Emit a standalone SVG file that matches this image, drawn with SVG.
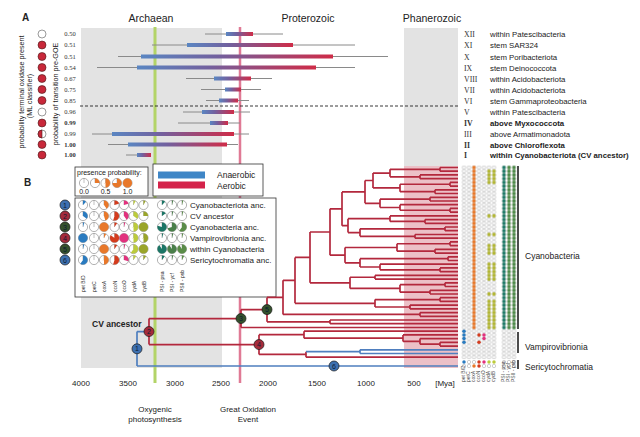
<svg xmlns="http://www.w3.org/2000/svg" xmlns:xlink="http://www.w3.org/1999/xlink" width="640" height="437" viewBox="0 0 640 437">
<style>
.t{font-family:"Liberation Sans",Arial,sans-serif;fill:#222}
.s{font-family:"Liberation Serif","Times New Roman",serif;fill:#333}
.b{font-weight:bold}
.tr{fill:none;stroke:#b3283d;stroke-width:1.7}
.tb{fill:none;stroke:#4f7fbf;stroke-width:1.7}
.ci{stroke:#8a8a8a;stroke-width:1}
.o{fill:#fff;stroke:#808080;stroke-width:.6}
.c1{stroke:#2a7bc0}.c3{stroke:#e8782a}.c4{stroke:#d43c1e}.c5{stroke:#e2327e}.c6{stroke:#bccb3c}.c7{stroke:#9aa52a}
.r1{stroke:#1b7565}.r2{stroke:#4a7f4a}.r3{stroke:#5a8c48}
.nd{stroke:#1a1a1a;stroke-width:.7}
.nt{font-family:"Liberation Sans",Arial,sans-serif;font-size:7px;fill:#0d1b33;text-anchor:middle}
.box{fill:#fff;stroke:#333;stroke-width:.8}
.tiny{font-family:"Liberation Sans",Arial,sans-serif;font-size:5px;fill:#444}
</style>
<defs>
<linearGradient id="g" x1="0" x2="1" y1="0" y2="0">
<stop offset="0" stop-color="#5a86c2"/><stop offset="0.4" stop-color="#72609e"/><stop offset="1" stop-color="#cf2c48"/>
</linearGradient>
<g id="pc"><circle class="o" r="4.6"/><path d="M0 0V-4.6" stroke="#808080" stroke-width=".5"/></g>
<circle id="wb" r="2.3" pathLength="100" transform="rotate(-90)" fill="none" stroke-width="4.6"/>
<pattern id="pg" patternUnits="userSpaceOnUse" x="461.5" y="165.64" width="5" height="3.72"><circle cx="2.5" cy="1.86" r="1.7" fill="#fff" stroke="#a0a0a0" stroke-width=".5"/></pattern>
<pattern id="po" patternUnits="userSpaceOnUse" x="461.5" y="165.64" width="5" height="3.72"><circle cx="2.5" cy="1.86" r="1.75" fill="#e8782a"/></pattern>
<pattern id="pl" patternUnits="userSpaceOnUse" x="461.5" y="165.64" width="5" height="3.72"><circle cx="2.5" cy="1.86" r="1.75" fill="#b2b634"/></pattern>
<pattern id="pt" patternUnits="userSpaceOnUse" x="461.5" y="165.64" width="5" height="3.72"><circle cx="2.5" cy="1.86" r="1.75" fill="#1f7a68"/></pattern>
<pattern id="pn" patternUnits="userSpaceOnUse" x="461.5" y="165.64" width="5" height="3.72"><circle cx="2.5" cy="1.86" r="1.75" fill="#4d8a48"/></pattern>
<circle id="mg" r="1.7" fill="#fff" stroke="#a0a0a0" stroke-width=".5"/>
</defs>
<rect width="640" height="437" fill="#fff"/>

<!-- background eras -->
<g id="eras">
<rect x="81" y="28" width="141" height="340" fill="#e3e3e3"/>
<rect x="404" y="28" width="54" height="340" fill="#e3e3e3"/>
<rect x="404" y="166" width="54" height="202" fill="#ecc0c7"/>
<line x1="155" y1="27" x2="155" y2="383" stroke="#b3d468" stroke-width="3"/>
<line x1="240" y1="27" x2="240" y2="383" stroke="#e07a95" stroke-width="2.5"/>
<text class="t" x="151" y="22" font-size="10.5" text-anchor="middle">Archaean</text>
<text class="t" x="308" y="22" font-size="10.5" text-anchor="middle">Proterozoic</text>
<text class="t" x="432" y="22" font-size="10.5" text-anchor="middle">Phanerozoic</text>
</g>

<!-- Panel A -->
<g id="panelA">
<text class="t b" x="22" y="21" font-size="10">A</text>
<text class="t" transform="translate(24 92) rotate(-90)" font-size="7.2" text-anchor="middle">probability terminal oxidase present</text>
<text class="t" transform="translate(32 96) rotate(-90)" font-size="7.2" text-anchor="middle">(ML classifier)</text>
<text class="t" transform="translate(58 94) rotate(-90)" font-size="7.2" text-anchor="middle">probability of transition pre-GOE</text>
<line x1="80" y1="106" x2="458" y2="106" stroke="#222" stroke-width=".9" stroke-dasharray="3 2"/>
<g id="a-circles" stroke="#4a1a1a" stroke-width=".6">
<circle cx="42" cy="34" r="4" fill="#fff" stroke="#555"/>
<circle cx="42" cy="45" r="4" fill="#c8283a"/>
<circle cx="42" cy="56.5" r="4" fill="#c8283a"/>
<circle cx="42" cy="67.5" r="4" fill="#c8283a"/>
<circle cx="42" cy="78.5" r="4" fill="#c8283a"/>
<circle cx="42" cy="89.5" r="4" fill="#c8283a"/>
<circle cx="42" cy="100.5" r="4" fill="#c8283a"/>
<circle cx="42" cy="112" r="4" fill="#fff" stroke="#555"/>
<circle cx="42" cy="123" r="4" fill="#c8283a"/>
<circle cx="42" cy="134" r="4" fill="#fff" stroke="#555"/>
<path d="M42 130A4 4 0 0 0 42 138Z" fill="#c8283a"/>
<circle cx="42" cy="144.5" r="4" fill="#c8283a"/>
<circle cx="42" cy="155" r="4" fill="#c8283a"/>
</g>
<g id="a-values" class="s" font-size="6.5" text-anchor="middle">
<text x="70" y="36.3">0.50</text><text x="70" y="47.3">0.51</text><text x="70" y="58.8">0.51</text>
<text x="70" y="69.8">0.54</text><text x="70" y="80.8">0.67</text><text x="70" y="91.8">0.75</text>
<text x="70" y="102.8">0.85</text><text x="70" y="114.3">0.96</text><text x="70" y="125.3" font-weight="bold">0.99</text>
<text x="70" y="136.3">0.99</text><text x="70" y="146.8" font-weight="bold">1.00</text><text x="70" y="157.3" font-weight="bold">1.00</text>
</g>
<g id="a-bars">
<line class="ci" x1="205" y1="34" x2="283" y2="34"/><rect x="226" y="32" width="27" height="4" fill="url(#g)"/>
<line class="ci" x1="152" y1="45" x2="355" y2="45"/><rect x="187" y="43" width="106" height="4" fill="url(#g)"/>
<line class="ci" x1="118" y1="56.5" x2="388" y2="56.5"/><rect x="141" y="54.5" width="192" height="4" fill="url(#g)"/>
<line class="ci" x1="97" y1="67.5" x2="355" y2="67.5"/><rect x="137" y="65.5" width="179" height="4" fill="url(#g)"/>
<line class="ci" x1="186" y1="78.5" x2="272" y2="78.5"/><rect x="214" y="76.5" width="37" height="4" fill="url(#g)"/>
<line class="ci" x1="201" y1="89.5" x2="261" y2="89.5"/><rect x="225" y="87.5" width="16" height="4" fill="url(#g)"/>
<line class="ci" x1="206" y1="100.5" x2="249" y2="100.5"/><rect x="219" y="98.5" width="19" height="4" fill="url(#g)"/>
<line class="ci" x1="183" y1="112" x2="250" y2="112"/><rect x="202" y="110" width="32" height="4" fill="url(#g)"/>
<line class="ci" x1="178" y1="123" x2="240" y2="123"/><rect x="210" y="121" width="18" height="4" fill="url(#g)"/>
<line class="ci" x1="92" y1="134" x2="249" y2="134"/><rect x="112" y="132" width="122" height="4" fill="url(#g)"/>
<line class="ci" x1="108" y1="144.5" x2="238" y2="144.5"/><rect x="128" y="142.5" width="99" height="4" fill="url(#g)"/>
<line class="ci" x1="126" y1="155" x2="150" y2="155"/><rect x="137" y="153" width="14" height="4" fill="url(#g)"/>
</g>
<g id="a-labels" font-size="7.8">
<text class="s" x="464" y="37">XII</text><text class="t" x="490" y="37">within Patescibacteria</text>
<text class="s" x="464" y="48">XI</text><text class="t" x="490" y="48">stem SAR324</text>
<text class="s" x="464" y="59.5">X</text><text class="t" x="490" y="59.5">stem Poribacteriota</text>
<text class="s" x="464" y="70.5">IX</text><text class="t" x="490" y="70.5">stem Deinococcota</text>
<text class="s" x="464" y="81.5">VIII</text><text class="t" x="490" y="81.5">within Acidobacteriota</text>
<text class="s" x="464" y="92.5">VII</text><text class="t" x="490" y="92.5">within Acidobacteriota</text>
<text class="s" x="464" y="103.5">VI</text><text class="t" x="490" y="103.5">stem Gammaproteobacteria</text>
<text class="s" x="464" y="115">V</text><text class="t" x="490" y="115">within Patescibacteria</text>
<text class="s b" x="464" y="126">IV</text><text class="t b" x="490" y="126">above Myxococcota</text>
<text class="s" x="464" y="137">III</text><text class="t" x="490" y="137">above Armatimonadota</text>
<text class="s b" x="464" y="147.5">II</text><text class="t b" x="490" y="147.5">above Chloroflexota</text>
<text class="s b" x="464" y="158">I</text><text class="t b" x="490" y="158">within Cyanobacteriota (CV ancestor)</text>
</g>
</g>

<!-- Panel B -->
<text class="t b" x="24" y="186" font-size="10">B</text>

<g id="legend-presence">
<rect class="box" x="75" y="167" width="73" height="29"/>
<text class="t" x="77" y="174.5" font-size="7">presence probability:</text>
<g transform="translate(84 183)"><use href="#pc"/></g>
<g transform="translate(95 183)"><use href="#pc"/><use href="#wb" class="c3" stroke-dasharray="25 100"/></g>
<g transform="translate(105.5 183)"><use href="#pc"/><use href="#wb" class="c3" stroke-dasharray="50 100"/></g>
<g transform="translate(117 183)"><use href="#pc"/><use href="#wb" class="c3" stroke-dasharray="75 100"/></g>
<g transform="translate(127.5 183)"><use href="#pc"/><use href="#wb" class="c3" stroke-dasharray="100 0"/></g>
<text class="t" x="84" y="194" font-size="7" text-anchor="middle">0.0</text>
<text class="t" x="105.5" y="194" font-size="7" text-anchor="middle">0.5</text>
<text class="t" x="127.5" y="194" font-size="7" text-anchor="middle">1.0</text>
</g>

<g id="legend-oxygen">
<rect class="box" x="153" y="164" width="110" height="32"/>
<rect x="158" y="171.5" width="47" height="7" fill="#3f86c6"/>
<rect x="158" y="181.5" width="47" height="7" fill="#d4234a"/>
<text class="t" x="217" y="178" font-size="8.5">Anaerobic</text>
<text class="t" x="217" y="188.5" font-size="8.5">Aerobic</text>
</g>

<g id="legend-matrix">
<rect class="box" x="75" y="198" width="201" height="99"/>
<g id="lm-row1">
<g transform="translate(83 205)"><use href="#pc"/><use href="#wb" class="c1" stroke-dasharray="12 100"/></g>
<g transform="translate(94 205)"><use href="#pc"/></g>
<g transform="translate(104 205)"><use href="#pc"/><use href="#wb" class="c3" stroke-dasharray="40 100"/></g>
<g transform="translate(114.5 205)"><use href="#pc"/><use href="#wb" class="c4" stroke-dasharray="20 100"/></g>
<g transform="translate(124 205)"><use href="#pc"/><use href="#wb" class="c5" stroke-dasharray="20 100"/></g>
<g transform="translate(133.5 205)"><use href="#pc"/><use href="#wb" class="c6" stroke-dasharray="8 100"/></g>
<g transform="translate(143.5 205)"><use href="#pc"/><use href="#wb" class="c7" stroke-dasharray="8 100"/></g>
<g transform="translate(162 205)"><use href="#pc"/><use href="#wb" class="r1" stroke-dasharray="12 100"/></g>
<g transform="translate(172 205)"><use href="#pc"/><use href="#wb" class="r2" stroke-dasharray="5 100"/></g>
<g transform="translate(182 205)"><use href="#pc"/><use href="#wb" class="r3" stroke-dasharray="5 100"/></g>
</g>
<g id="lm-row2">
<g transform="translate(83 216)"><use href="#pc"/><use href="#wb" class="c1" stroke-dasharray="35 100"/></g>
<g transform="translate(94 216)"><use href="#pc"/></g>
<g transform="translate(104 216)"><use href="#pc"/><use href="#wb" class="c3" stroke-dasharray="45 100"/></g>
<g transform="translate(114.5 216)"><use href="#pc"/><use href="#wb" class="c4" stroke-dasharray="55 100"/></g>
<g transform="translate(124 216)"><use href="#pc"/><use href="#wb" class="c5" stroke-dasharray="40 100"/></g>
<g transform="translate(133.5 216)"><use href="#pc"/><use href="#wb" class="c6" stroke-dasharray="35 100"/></g>
<g transform="translate(143.5 216)"><use href="#pc"/><use href="#wb" class="c7" stroke-dasharray="25 100"/></g>
<g transform="translate(162 216)"><use href="#pc"/><use href="#wb" class="r1" stroke-dasharray="15 100"/></g>
<g transform="translate(172 216)"><use href="#pc"/><use href="#wb" class="r2" stroke-dasharray="5 100"/></g>
<g transform="translate(182 216)"><use href="#pc"/><use href="#wb" class="r3" stroke-dasharray="5 100"/></g>
</g>
<g id="lm-row3">
<g transform="translate(83 227)"><use href="#pc"/><use href="#wb" class="c1" stroke-dasharray="5 100"/></g>
<g transform="translate(94 227)"><use href="#pc"/></g>
<g transform="translate(104 227)"><use href="#pc"/><use href="#wb" class="c3" stroke-dasharray="100 0"/></g>
<g transform="translate(114.5 227)"><use href="#pc"/><use href="#wb" class="c4" stroke-dasharray="10 100"/></g>
<g transform="translate(124 227)"><use href="#pc"/><use href="#wb" class="c5" stroke-dasharray="5 100"/></g>
<g transform="translate(133.5 227)"><use href="#pc"/><use href="#wb" class="c6" stroke-dasharray="50 100"/></g>
<g transform="translate(143.5 227)"><use href="#pc"/><use href="#wb" class="c7" stroke-dasharray="100 0"/></g>
<g transform="translate(162 227)"><use href="#pc"/><use href="#wb" class="r1" stroke-dasharray="80 100"/></g>
<g transform="translate(172 227)"><use href="#pc"/><use href="#wb" class="r2" stroke-dasharray="70 100"/></g>
<g transform="translate(182 227)"><use href="#pc"/><use href="#wb" class="r3" stroke-dasharray="60 100"/></g>
</g>
<g id="lm-row4">
<g transform="translate(83 238)"><use href="#pc"/><use href="#wb" class="c1" stroke-dasharray="100 0"/></g>
<g transform="translate(94 238)"><use href="#pc"/></g>
<g transform="translate(104 238)"><use href="#pc"/><use href="#wb" class="c3" stroke-dasharray="8 100"/></g>
<g transform="translate(114.5 238)"><use href="#pc"/><use href="#wb" class="c4" stroke-dasharray="85 100"/></g>
<g transform="translate(124 238)"><use href="#pc"/><use href="#wb" class="c5" stroke-dasharray="100 0"/></g>
<g transform="translate(133.5 238)"><use href="#pc"/><use href="#wb" class="c6" stroke-dasharray="50 100"/></g>
<g transform="translate(143.5 238)"><use href="#pc"/><use href="#wb" class="c7" stroke-dasharray="50 100"/></g>
<g transform="translate(162 238)"><use href="#pc"/><use href="#wb" class="r1" stroke-dasharray="5 100"/></g>
<g transform="translate(172 238)"><use href="#pc"/><use href="#wb" class="r2" stroke-dasharray="5 100"/></g>
<g transform="translate(182 238)"><use href="#pc"/><use href="#wb" class="r3" stroke-dasharray="5 100"/></g>
</g>
<g id="lm-row5">
<g transform="translate(83 249)"><use href="#pc"/><use href="#wb" class="c1" stroke-dasharray="5 100"/></g>
<g transform="translate(94 249)"><use href="#pc"/></g>
<g transform="translate(104 249)"><use href="#pc"/><use href="#wb" class="c3" stroke-dasharray="100 0"/></g>
<g transform="translate(114.5 249)"><use href="#pc"/><use href="#wb" class="c4" stroke-dasharray="10 100"/></g>
<g transform="translate(124 249)"><use href="#pc"/><use href="#wb" class="c5" stroke-dasharray="5 100"/></g>
<g transform="translate(133.5 249)"><use href="#pc"/><use href="#wb" class="c6" stroke-dasharray="60 100"/></g>
<g transform="translate(143.5 249)"><use href="#pc"/><use href="#wb" class="c7" stroke-dasharray="100 0"/></g>
<g transform="translate(162 249)"><use href="#pc"/><use href="#wb" class="r1" stroke-dasharray="90 100"/></g>
<g transform="translate(172 249)"><use href="#pc"/><use href="#wb" class="r2" stroke-dasharray="90 100"/></g>
<g transform="translate(182 249)"><use href="#pc"/><use href="#wb" class="r3" stroke-dasharray="90 100"/></g>
</g>
<g id="lm-row6">
<g transform="translate(83 260)"><use href="#pc"/><use href="#wb" class="c1" stroke-dasharray="60 100"/></g>
<g transform="translate(94 260)"><use href="#pc"/></g>
<g transform="translate(104 260)"><use href="#pc"/><use href="#wb" class="c3" stroke-dasharray="50 100"/></g>
<g transform="translate(114.5 260)"><use href="#pc"/><use href="#wb" class="c4" stroke-dasharray="55 100"/></g>
<g transform="translate(124 260)"><use href="#pc"/><use href="#wb" class="c5" stroke-dasharray="30 100"/></g>
<g transform="translate(133.5 260)"><use href="#pc"/><use href="#wb" class="c6" stroke-dasharray="10 100"/></g>
<g transform="translate(143.5 260)"><use href="#pc"/><use href="#wb" class="c7" stroke-dasharray="10 100"/></g>
<g transform="translate(162 260)"><use href="#pc"/><use href="#wb" class="r1" stroke-dasharray="10 100"/></g>
<g transform="translate(172 260)"><use href="#pc"/><use href="#wb" class="r2" stroke-dasharray="5 100"/></g>
<g transform="translate(182 260)"><use href="#pc"/><use href="#wb" class="r3" stroke-dasharray="8 100"/></g>
</g>
<g id="lm-labels" class="t" font-size="8">
<text x="190" y="208">Cyanobacteriota anc.</text>
<text x="190" y="219">CV ancestor</text>
<text x="190" y="230">Cyanobacteria anc.</text>
<text x="190" y="241">Vampirovibrionia anc.</text>
<text x="190" y="252">within Cyanobacteria</text>
<text x="190" y="263">Sericytochromatia anc.</text>
</g>
<g id="lm-cols" class="t" font-size="5">
<text transform="translate(85 292) rotate(-90)">pet B/D</text>
<text transform="translate(96 292) rotate(-90)">petC</text>
<text transform="translate(106 292) rotate(-90)">coxA</text>
<text transform="translate(116.5 292) rotate(-90)">ccoN</text>
<text transform="translate(126 292) rotate(-90)">ccoO</text>
<text transform="translate(135.5 292) rotate(-90)">cydA</text>
<text transform="translate(145.5 292) rotate(-90)">cydB</text>
<text transform="translate(164 292) rotate(-90)">PSI - psa</text>
<text transform="translate(174 292) rotate(-90)">PSI - ycf</text>
<text transform="translate(184 292) rotate(-90)">PSII - psb</text>
</g>
</g>

<g id="legend-nodes">
<g id="ln1"><circle class="nd" cx="65" cy="205" r="5" fill="#3d70b0"/><text class="nt" x="65" y="207.5">1</text></g>
<g id="ln2"><circle class="nd" cx="65" cy="216" r="5" fill="#a52a3a"/><text class="nt" x="65" y="218.5">2</text></g>
<g id="ln3"><circle class="nd" cx="65" cy="227" r="5" fill="#34512c"/><text class="nt" x="65" y="229.5">3</text></g>
<g id="ln4"><circle class="nd" cx="65" cy="238" r="5" fill="#a52a3a"/><text class="nt" x="65" y="240.5">4</text></g>
<g id="ln5"><circle class="nd" cx="65" cy="249" r="5" fill="#34512c"/><text class="nt" x="65" y="251.5">5</text></g>
<g id="ln6"><circle class="nd" cx="65" cy="260" r="5" fill="#3d70b0"/><text class="nt" x="65" y="262.5">6</text></g>
</g>

<!-- tree connectors -->
<g id="connectors">
<path class="tr" d="M390 169.35V176.8M390 169.35H440M390 176.8H420M440 167.5V171.2M440 167.5H458M440 171.2H458M420 174.9V178.7M420 174.9H458M420 178.7H458M400 184.25V191.65M400 184.25H450M400 191.65H435M450 182.4V186.1M450 182.4H458M450 186.1H458M435 189.8V193.5M435 189.8H458M435 193.5H458M373 173.1V187.95M373 173.1H390M373 187.95H400M380 199.15V207.5M380 199.15H430M380 207.5H400M430 197.3V201M430 197.3H458M430 201H458M400 204.7V210.25M400 204.7H458M400 210.25H450M450 208.4V212.1M450 208.4H458M450 212.1H458M365 180.5V203.3M365 180.5H373M365 203.3H380M348 218.7V232.6M348 218.7H390M348 232.6H360M390 215.9V221.45M390 215.9H458M390 221.45H425M425 219.6V223.3M425 219.6H458M425 223.3H458M360 228.85V236.35M360 228.85H445M360 236.35H415M445 227V230.7M445 227H458M445 230.7H458M415 234.5V238.2M415 234.5H458M415 238.2H458M342 191.9V225.65M342 191.9H365M342 225.65H348M345 247.5V262.8M345 247.5H397M345 262.8H360M397 243.75V251.2M397 243.75H450M397 251.2H435M450 241.9V245.6M450 241.9H458M450 245.6H458M435 249.3V253.1M435 249.3H458M435 253.1H458M360 258.65V267M360 258.65H448M360 267H380M448 256.8V260.5M448 256.8H458M448 260.5H458M380 264.2V269.8M380 264.2H458M380 269.8H440M440 267.9V271.7M440 267.9H458M440 271.7H458M330 208.8V255.15M330 208.8H342M330 255.15H345M350 277.25V288.4M350 277.25H375M350 288.4H400M375 275.4V279.1M375 275.4H458M375 279.1H458M400 284.65V292.15M400 284.65H445M400 292.15H430M445 282.8V286.5M445 282.8H458M445 286.5H458M430 290.3V294M430 290.3H458M430 294H458M310 232V282.8M310 232H330M310 282.8H350M375 299.55V307M375 299.55H440M375 307H410M440 297.7V301.4M440 297.7H458M440 301.4H458M410 305.1V308.9M410 305.1H458M410 308.9H458M295 257.4V303.3M295 257.4H310M295 303.3H375M420 312.6V316.3M420 312.6H458M420 316.3H458M283 280.35V314.45M283 280.35H295M283 314.45H420M330 320V323.7M330 320H458M330 323.7H458M267 297.4V321.85M267 297.4H283M267 321.85H330M241 309.6V327.5M241 309.6H267M241 327.5H458M304 331.2V338.15M304 331.2H458M304 338.15H403M403 334.9V341.4M403 334.9H458M403 341.4H420M420 338.6V344.2M420 338.6H458M420 344.2H440M440 342.3V346.1M440 342.3H458M440 346.1H458M306 351.65V357.2M306 357.2H458M259 334.7V354.4M259 334.7H304M259 354.4H306M149 318.55V344.55"/>
<path class="tr" stroke-width="2.4" d="M149 318.55H241M149 344.55H259"/>
<path class="tb" d="M306 351.65H360M360 349.8V353.5M360 349.8H458M360 353.5H458M137 331.55V366M137 331.55H149M137 366H458"/>
</g>

<g id="node1"><circle class="nd" cx="137" cy="348.8" r="5" fill="#3d70b0"/><text class="nt" x="137" y="351.3">1</text></g>
<g id="node2"><circle class="nd" cx="149" cy="331.55" r="5" fill="#a52a3a"/><text class="nt" x="149" y="334">2</text></g>
<g id="node3"><circle class="nd" cx="241" cy="318.55" r="5" fill="#34512c"/><text class="nt" x="241" y="321">3</text></g>
<g id="node4"><circle class="nd" cx="259" cy="344.55" r="5" fill="#a52a3a"/><text class="nt" x="259" y="347">4</text></g>
<g id="node5"><circle class="nd" cx="267" cy="309.6" r="5" fill="#34512c"/><text class="nt" x="267" y="312.1">5</text></g>
<g id="node6"><circle class="nd" cx="334" cy="366" r="5" fill="#3d70b0"/><text class="nt" x="334" y="368.5">6</text></g>
<text class="t b" x="92" y="327" font-size="8.5">CV ancestor</text>

<!-- gene matrix -->
<g id="gene-matrix">
<rect x="461.5" y="165.64" width="35" height="193.44" fill="url(#pg)"/>
<rect x="501.5" y="165.64" width="15" height="193.44" fill="url(#pg)"/>
<rect x="471.5" y="165.64" width="5" height="163.68" fill="url(#po)"/>
<rect x="501.5" y="165.64" width="5" height="163.68" fill="url(#pt)"/>
<rect x="506.5" y="165.64" width="10" height="163.68" fill="url(#pn)"/>
<rect x="486.5" y="169.36" width="10" height="14.88" fill="url(#pl)"/>
<rect x="486.5" y="214" width="10" height="3.72" fill="url(#pl)"/>
<rect x="486.5" y="232.6" width="10" height="3.72" fill="url(#pl)"/>
<rect x="486.5" y="243.76" width="10" height="11.16" fill="url(#pl)"/>
<rect x="486.5" y="262.36" width="10" height="18.6" fill="url(#pl)"/>
<rect x="486.5" y="292.12" width="10" height="3.72" fill="url(#pl)"/>
<rect x="486.5" y="299.56" width="10" height="29.76" fill="url(#pl)"/>
<g id="vamp-cells">
<circle cx="464" cy="331.2" r="1.75" fill="#2a7bc0"/><circle cx="464" cy="334.9" r="1.75" fill="#2a7bc0"/>
<circle cx="464" cy="338.6" r="1.75" fill="#2a7bc0"/><circle cx="464" cy="342.3" r="1.75" fill="#2a7bc0"/>
<circle cx="479" cy="334.9" r="1.75" fill="#d43c1e"/><circle cx="479" cy="342.3" r="1.75" fill="#d43c1e"/>
<circle cx="484" cy="334.9" r="1.75" fill="#e2327e"/><circle cx="484" cy="338.6" r="1.75" fill="#e2327e"/>
</g>
<g id="serico-cells">
<circle cx="464" cy="362" r="1.75" fill="#2a7bc0"/><use href="#mg" x="469" y="362"/><use href="#mg" x="474" y="362"/>
<circle cx="479" cy="362" r="1.75" fill="#d43c1e"/><circle cx="484" cy="362" r="1.75" fill="#e2327e"/>
<circle cx="489" cy="362" r="1.75" fill="#bccb3c"/><circle cx="494" cy="362" r="1.75" fill="#bccb3c"/>
<use href="#mg" x="504" y="362"/><use href="#mg" x="509" y="362"/><use href="#mg" x="514" y="362"/>
<use href="#mg" x="464" y="366"/><use href="#mg" x="469" y="366"/><circle cx="474" cy="366" r="1.75" fill="#e8782a"/>
<circle cx="479" cy="366" r="1.75" fill="#d43c1e"/><use href="#mg" x="484" y="366"/><use href="#mg" x="489" y="366"/><use href="#mg" x="494" y="366"/>
<use href="#mg" x="504" y="366"/><use href="#mg" x="509" y="366"/><use href="#mg" x="514" y="366"/>
</g>
<g id="matrix-cols" class="tiny" font-size="3">
<text transform="translate(465 382) rotate(-90)">pet B/D</text>
<text transform="translate(470 382) rotate(-90)">petC</text>
<text transform="translate(475 382) rotate(-90)">coxA</text>
<text transform="translate(480 382) rotate(-90)">ccoN</text>
<text transform="translate(485 382) rotate(-90)">ccoO</text>
<text transform="translate(490 382) rotate(-90)">cydA</text>
<text transform="translate(495 382) rotate(-90)">cydB</text>
<text transform="translate(505 382) rotate(-90)">PSI - psa</text>
<text transform="translate(510 382) rotate(-90)">PSI - ycf</text>
<text transform="translate(515 382) rotate(-90)">PSII - psb</text>
</g>
</g>

<g id="clades">
<line x1="518" y1="166" x2="518" y2="329" stroke="#111" stroke-width="1.5"/>
<line x1="518" y1="332" x2="518" y2="353" stroke="#111" stroke-width="1.5"/>
<line x1="518" y1="360" x2="518" y2="369" stroke="#111" stroke-width="1.5"/>
<text class="t" x="525" y="259" font-size="8.5">Cyanobacteria</text>
<text class="t" x="525" y="350" font-size="8.5">Vampirovibrionia</text>
<text class="t" x="525" y="370" font-size="8.5">Sericytochromatia</text>
</g>

<g id="axis" class="t" font-size="8" text-anchor="middle">
<text x="81" y="386">4000</text><text x="128" y="386">3500</text><text x="175" y="386">3000</text>
<text x="221" y="386">2500</text><text x="268" y="386">2000</text><text x="317" y="386">1500</text>
<text x="366" y="386">1000</text><text x="414" y="386">500</text><text x="445" y="386">[Mya]</text>
<text x="155" y="412">Oxygenic</text><text x="155" y="422">photosynthesis</text>
<text x="248" y="412">Great Oxidation</text><text x="248" y="422">Event</text>
</g>
</svg>
